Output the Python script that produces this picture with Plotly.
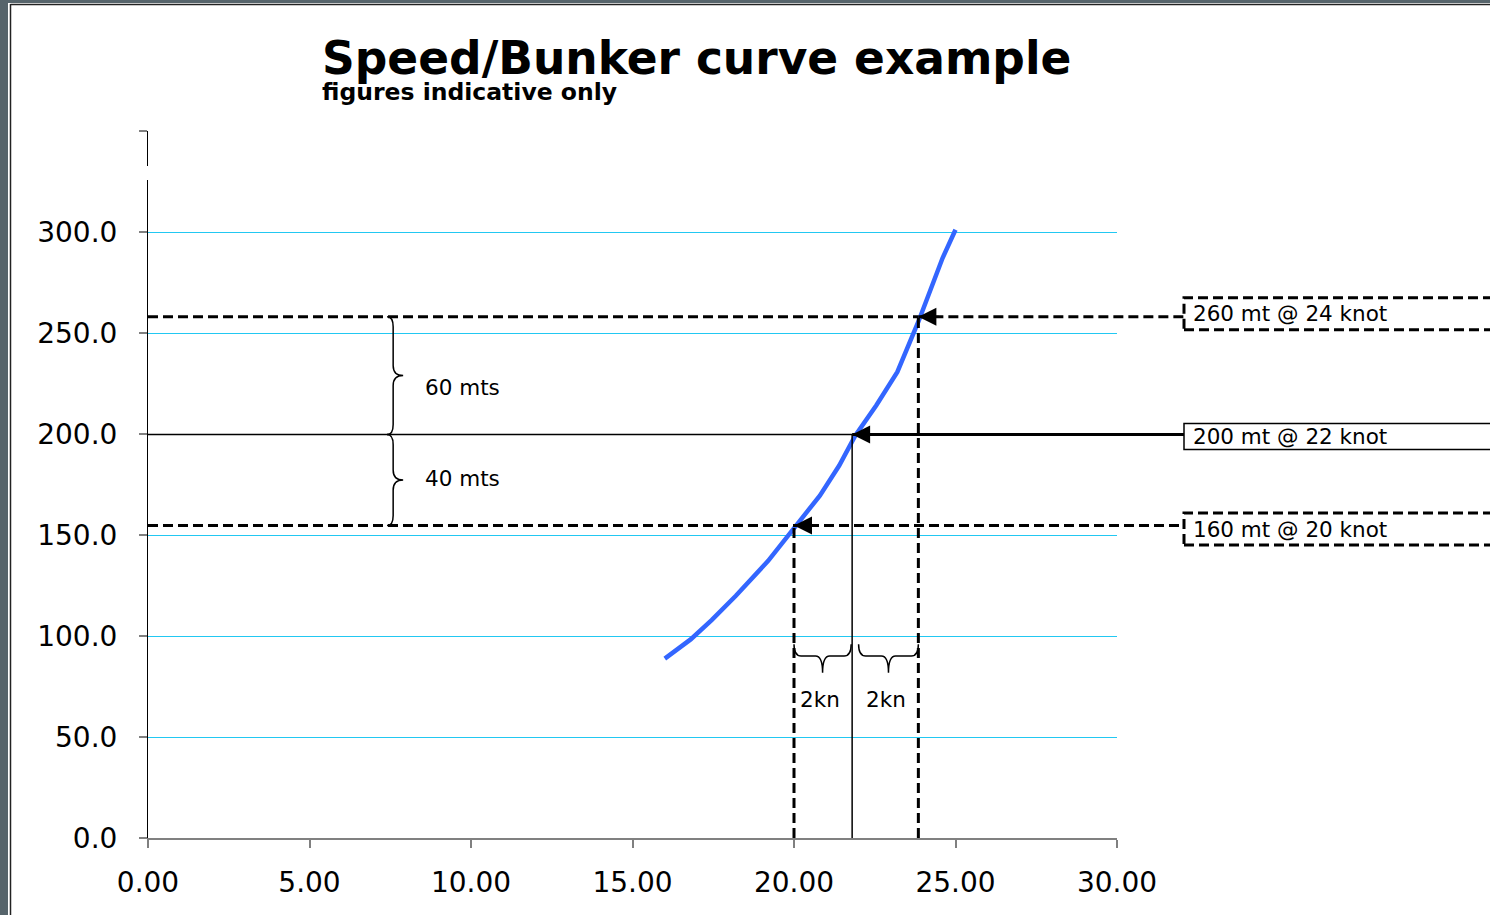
import plotly.graph_objects as go

# ---------------- data ----------------
speed = [16.0, 16.8, 17.45, 18.2, 19.2, 20.0, 20.8, 21.4, 21.9, 22.55, 23.2, 23.85, 24.3, 24.6, 25.0]
consumption = [88.8, 98.3, 107.9, 119.9, 137.2, 153.8, 169.5, 184.4, 199.3, 214.2, 230.7, 255.6, 273.8, 287.1, 301.1]

guide_speed = [20.0, 21.8, 23.85]
guide_cons = [154.7, 199.7, 258.1]
guide_labels = ["160 mt @ 20 knot", "200 mt @ 22 knot", "260 mt @ 24 knot"]
guide_dashed = [True, False, True]

cons_brace_labels = ["40 mts", "60 mts"]
speed_brace_labels = ["2kn", "2kn"]

x_ticks = [0, 5, 10, 15, 20, 25, 30]
y_ticks = [0, 50, 100, 150, 200, 250, 300, 350]
y_tick_text = ["0.0", "50.0", "100.0", "150.0", "200.0", "250.0", "300.0", ""]

title_text = "Speed/Bunker curve example"
subtitle_text = "figures indicative only"

# ---------------- layout geometry ----------------
W, H = 1490, 915
ML, MR, MT, MB = 148, 373, 131, 77
PW, PH = W - ML - MR, H - MT - MB
X_RANGE = [0, 30]
Y_RANGE = [0, 350]
FONT = "DejaVu Sans"
GRID = "#22c8f2"
DASH = "10px,5px"


def pxx(px):
    return (px - ML) / PW


def pxy(py):
    return (H - MB - py) / PH


def dx_px(v):
    return ML + (v - X_RANGE[0]) / (X_RANGE[1] - X_RANGE[0]) * PW


def dy_px(v):
    return H - MB - (v - Y_RANGE[0]) / (Y_RANGE[1] - Y_RANGE[0]) * PH


fig = go.Figure()
fig.add_trace(go.Scatter(x=speed, y=consumption, mode="lines",
                         line=dict(color="#3366ff", width=4.5), hoverinfo="skip",
                         showlegend=False))

shapes = []
annotations = []

# frame (slide border)
shapes.append(dict(type="rect", xref="paper", yref="paper", x0=pxx(0), x1=pxx(8),
                   y0=pxy(H + 5), y1=pxy(-5), fillcolor="#56646b", line=dict(width=0), layer="above"))
shapes.append(dict(type="rect", xref="paper", yref="paper", x0=pxx(0), x1=pxx(W + 5),
                   y0=pxy(3), y1=pxy(-5), fillcolor="#56646b", line=dict(width=0), layer="above"))
shapes.append(dict(type="line", xref="paper", yref="paper", x0=pxx(10.5), x1=pxx(10.5),
                   y0=pxy(4), y1=pxy(H + 5), line=dict(color="#222222", width=1.5)))
shapes.append(dict(type="line", xref="paper", yref="paper", x0=pxx(10.5), x1=pxx(W + 5),
                   y0=pxy(4.5), y1=pxy(4.5), line=dict(color="#222222", width=1.5)))
# small white break on y axis line
shapes.append(dict(type="line", xref="paper", yref="paper", x0=pxx(ML), x1=pxx(ML),
                   y0=pxy(166), y1=pxy(180), line=dict(color="white", width=3)))

box_left_px = 1184
box_center_off = [3.5, 2.0, -3.0]
box_height = [32, 26, 32]

for s, c, lab, dashed, bco, bh in zip(guide_speed, guide_cons, guide_labels, guide_dashed,
                                      box_center_off, box_height):
    dash = DASH if dashed else "solid"
    thin = 3 if dashed else 1.5
    # horizontal line from y axis to the curve
    shapes.append(dict(type="line", xref="x", yref="y", x0=X_RANGE[0], x1=s, y0=c, y1=c,
                       line=dict(color="black", width=thin, dash=dash)))
    # vertical line from the curve down to the x axis
    shapes.append(dict(type="line", xref="x", yref="y", x0=s, x1=s, y0=Y_RANGE[0], y1=c,
                       line=dict(color="black", width=thin, dash=dash)))
    # horizontal line from the curve to the label box
    shapes.append(dict(type="line", xref="paper", yref="y", x0=pxx(dx_px(s)), x1=pxx(box_left_px),
                       y0=c, y1=c, line=dict(color="black", width=3, dash=dash)))
    # label box
    cy = dy_px(c) + bco
    shapes.append(dict(type="rect", xref="paper", yref="paper",
                       x0=pxx(box_left_px), x1=pxx(W + 20),
                       y0=pxy(cy + bh / 2), y1=pxy(cy - bh / 2),
                       line=dict(color="black", width=3 if dashed else 1.5, dash=dash),
                       fillcolor="rgba(0,0,0,0)"))
    annotations.append(dict(xref="paper", yref="paper", x=pxx(box_left_px + 7), y=pxy(cy),
                            text=lab, showarrow=False, xanchor="left", yanchor="middle",
                            font=dict(family=FONT, size=21.5, color="black")))
    # arrowhead on the curve
    annotations.append(dict(xref="x", yref="y", x=s, y=c, text="", showarrow=True,
                            ax=22, ay=0, arrowhead=2, arrowsize=1.8, arrowwidth=2,
                            arrowcolor="black", standoff=0))

# vertical braces (consumption differences)
xe, xs, xt = 7.40, 7.59, 7.90
hy = 5.0
lab_shift = [2, -12]
for (lo, hi), lab, ys in zip(zip(guide_cons[:-1], guide_cons[1:]), cons_brace_labels, lab_shift):
    mid = (lo + hi) / 2
    path = (f"M {xe},{hi} Q {xs},{hi} {xs},{hi - hy} L {xs},{mid + hy} "
            f"Q {xs},{mid} {xt},{mid} Q {xs},{mid} {xs},{mid - hy} "
            f"L {xs},{lo + hy} Q {xs},{lo} {xe},{lo}")
    shapes.append(dict(type="path", xref="x", yref="y", path=path,
                       line=dict(color="black", width=1.5)))
    annotations.append(dict(xref="x", yref="y", x=8.50, y=mid, yshift=ys, text=lab,
                            showarrow=False, xanchor="left", yanchor="middle",
                            font=dict(family=FONT, size=21.5, color="black")))

# horizontal braces (speed differences)
ytop, yh, ytip = 95.9, 90.1, 81.8
hx = 0.22
insets = [(0.0, -0.03), (0.2, 0.0)]
for (a, b), lab, (ia, ib) in zip(zip(guide_speed[:-1], guide_speed[1:]), speed_brace_labels, insets):
    a, b = a + ia, b + ib
    mid = (a + b) / 2
    path = (f"M {a},{ytop} Q {a},{yh} {a + hx},{yh} L {mid - hx},{yh} "
            f"Q {mid},{yh} {mid},{ytip} Q {mid},{yh} {mid + hx},{yh} "
            f"L {b - hx},{yh} Q {b},{yh} {b},{ytop}")
    shapes.append(dict(type="path", xref="x", yref="y", path=path,
                       line=dict(color="black", width=1.5)))
    annotations.append(dict(xref="x", yref="y", x=mid - 0.08, y=ytip - 13.3, text=lab,
                            showarrow=False, xanchor="center", yanchor="middle",
                            font=dict(family=FONT, size=21.5, color="black")))

# title / subtitle
annotations.append(dict(xref="paper", yref="paper", x=pxx(320), y=pxy(58.5), text=f"<b>{title_text}</b>",
                        showarrow=False, xanchor="left", yanchor="middle",
                        font=dict(family=FONT, size=45.5, color="black")))
annotations.append(dict(xref="paper", yref="paper", x=pxx(320), y=pxy(92.5), text=f"<b>{subtitle_text}</b>",
                        showarrow=False, xanchor="left", yanchor="middle",
                        font=dict(family=FONT, size=23.5, color="black")))

fig.update_layout(
    width=W, height=H,
    margin=dict(l=ML, r=MR, t=MT, b=MB, pad=0),
    paper_bgcolor="white", plot_bgcolor="white",
    shapes=shapes, annotations=annotations,
    showlegend=False,
    xaxis=dict(range=X_RANGE, tickvals=x_ticks, ticktext=[f"{v:.2f}" for v in x_ticks],
               showgrid=False, zeroline=False, showline=True, linecolor="#808080", linewidth=2,
               ticks="outside", ticklen=8, tickwidth=1.5, tickcolor="#808080",
               tickfont=dict(family=FONT, size=28, color="black"), automargin=False,
               ticklabelstandoff=10),
    yaxis=dict(range=Y_RANGE, tickvals=y_ticks, ticktext=y_tick_text,
               showgrid=True, gridcolor=GRID, gridwidth=1, zeroline=False,
               showline=True, linecolor="black", linewidth=1,
               ticks="outside", ticklen=8, tickwidth=1.5, tickcolor="#808080",
               tickfont=dict(family=FONT, size=28, color="black"), automargin=False,
               ticklabelstandoff=16),
)

fig.write_html("out.html")
